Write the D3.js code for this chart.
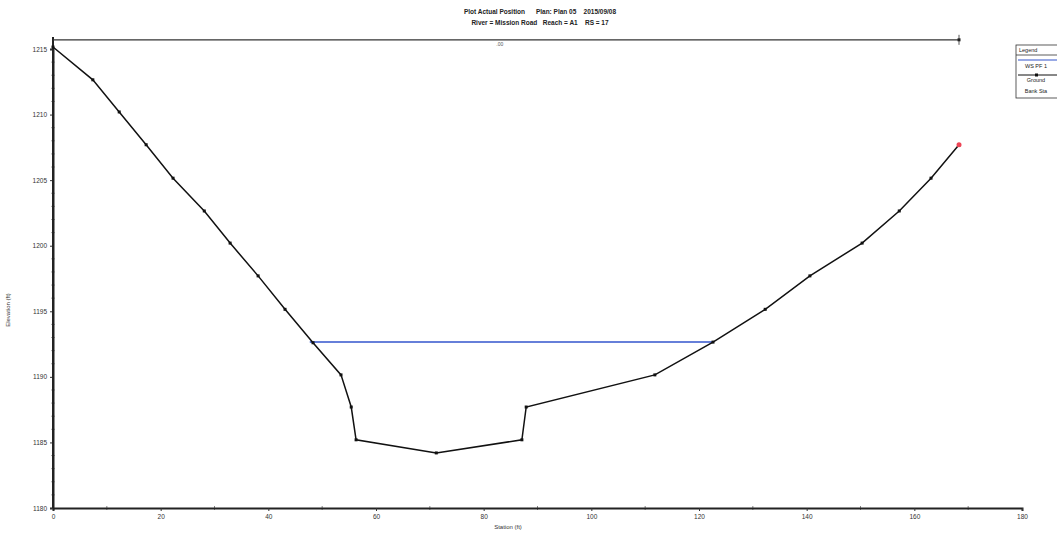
<!DOCTYPE html>
<html>
<head>
<meta charset="utf-8">
<script src="https://cdn.jsdelivr.net/npm/d3@7"></script>
<style>
  body { margin: 0; background: #fff; }
  svg { display: block; font-family: "Liberation Sans", Arial, sans-serif; }
  .title { white-space: pre; }
</style>
</head>
<body>
<svg id="chart" width="1057" height="534"></svg>
<script>
// ground points (station ft, elevation ft)
let stations = [0, 7.4, 12.3, 17.3, 22.3, 28.1, 32.9, 38.1, 43.1, 48.3, 53.5, 55.4, 56.3, 71.2, 87.1, 87.9, 111.8, 122.6, 132.3, 140.6, 150.3, 157.2, 163.1, 168.3];
let elevations = [1215.15, 1212.65, 1210.2, 1207.7, 1205.15, 1202.65, 1200.2, 1197.7, 1195.15, 1192.6, 1190.15, 1187.7, 1185.2, 1184.2, 1185.2, 1187.7, 1190.15, 1192.65, 1195.15, 1197.7, 1200.2, 1202.65, 1205.15, 1207.7];
let wsStations = [47.7, 122.6];
let wsElev = 1192.65;
let lidStations = [0, 168.3];
let lidElev = 1215.7;
let xTicks = [0, 20, 40, 60, 80, 100, 120, 140, 160, 180];
let yTicks = [1180, 1185, 1190, 1195, 1200, 1205, 1210, 1215];
let titleLines = ["Plot Actual Position      Plan: Plan 05    2015/09/08", "River = Mission Road   Reach = A1    RS = 17"];
let legendItems = ["Legend", "WS PF 1", "Ground", "Bank Sta"];

let margin = { top: 49, right: 35, bottom: 26, left: 53 };
let width = 1057 - margin.left - margin.right;
let height = 534 - margin.top - margin.bottom;

let x = d3.scaleLinear().domain([0, 180]).range([0, width]);
let y = d3.scaleLinear().domain([1180, 1215]).range([height, 0]);

let svg = d3.select("#chart");
let g = svg.append("g").attr("transform", "translate(" + margin.left + "," + margin.top + ")");

// title
svg.selectAll(".title").data(titleLines).enter().append("text")
    .attr("class", "title")
    .attr("x", 540).attr("y", (d, i) => 14 + i * 11)
    .attr("text-anchor", "middle").attr("font-size", "6.5px").attr("font-weight", "bold")
    .attr("fill", "#222").text(d => d);

// minor ticks
let xMinor = d3.range(10, 180, 20);
g.selectAll(".xminor").data(xMinor).enter().append("line")
    .attr("x1", d => x(d)).attr("x2", d => x(d)).attr("y1", height - 2).attr("y2", height + 2)
    .attr("stroke", "#666").attr("stroke-width", 0.8);
let yMinor = d3.range(1180, 1216, 1).filter(v => v % 5 != 0);
g.selectAll(".yminor").data(yMinor).enter().append("line")
    .attr("x1", -2).attr("x2", 2).attr("y1", d => y(d)).attr("y2", d => y(d))
    .attr("stroke", "#888").attr("stroke-width", 0.7);

// axes
let xAxis = g.append("g").attr("transform", "translate(0," + height + ")")
    .call(d3.axisBottom(x).tickValues(xTicks).tickSize(3).tickFormat(d3.format("d")));
let yAxis = g.append("g")
    .call(d3.axisLeft(y).tickValues(yTicks).tickSize(3).tickFormat(d3.format("d")));
[xAxis, yAxis].forEach(a => {
    a.select(".domain").attr("stroke", "#222").attr("stroke-width", 2);
    a.selectAll(".tick line").attr("stroke", "#333");
    a.selectAll("text").attr("font-size", "6.5px").attr("fill", "#333");
});
g.append("line").attr("x1", x(0)).attr("x2", x(0)).attr("y1", -12).attr("y2", height)
    .attr("stroke", "#222").attr("stroke-width", 2);

// axis labels
svg.append("text").attr("x", 508).attr("y", 529).attr("text-anchor", "middle")
    .attr("font-size", "6px").attr("fill", "#333").text("Station (ft)");
svg.append("text").attr("transform", "translate(10,310) rotate(-90)").attr("text-anchor", "middle")
    .attr("font-size", "6px").attr("fill", "#333").text("Elevation (ft)");

// lid / top line
g.append("line").attr("x1", x(lidStations[0])).attr("x2", x(lidStations[1]))
    .attr("y1", y(lidElev)).attr("y2", y(lidElev)).attr("stroke", "#333").attr("stroke-width", 1.2);
g.append("line").attr("x1", x(lidStations[1])).attr("x2", x(lidStations[1]))
    .attr("y1", y(lidElev) - 5).attr("y2", y(lidElev) + 5).attr("stroke", "#555").attr("stroke-width", 1);
g.append("rect").attr("x", x(lidStations[1]) - 1.5).attr("y", y(lidElev) - 1.5)
    .attr("width", 3).attr("height", 3).attr("fill", "#222");
g.append("text").attr("x", x(83)).attr("y", y(lidElev) + 6).attr("text-anchor", "middle")
    .attr("font-size", "5px").attr("fill", "#555").text(".00");

// water surface
g.append("line").attr("x1", x(wsStations[0])).attr("x2", x(wsStations[1]))
    .attr("y1", y(wsElev)).attr("y2", y(wsElev)).attr("stroke", "#3355cc").attr("stroke-width", 1.5);

// ground
let ground = stations.map((s, i) => [s, elevations[i]]);
g.append("path").datum(ground)
    .attr("d", d3.line().x(d => x(d[0])).y(d => y(d[1])))
    .attr("fill", "none").attr("stroke", "#111").attr("stroke-width", 1.5);
g.selectAll(".pt").data(ground).enter().append("rect")
    .attr("x", d => x(d[0]) - 1.5).attr("y", d => y(d[1]) - 1.5)
    .attr("width", 3).attr("height", 3).attr("fill", "#111");
// bank station
let last = ground[ground.length - 1];
g.append("circle").attr("cx", x(last[0])).attr("cy", y(last[1])).attr("r", 2.5).attr("fill", "#ee4455");

// legend
let lg = svg.append("g").attr("transform", "translate(1016,45)");
lg.append("rect").attr("width", 45).attr("height", 53).attr("fill", "#fff").attr("stroke", "#333").attr("stroke-width", 0.8);
lg.append("line").attr("x1", 0).attr("x2", 45).attr("y1", 10).attr("y2", 10).attr("stroke", "#333").attr("stroke-width", 0.8);
lg.append("line").attr("x1", 2).attr("x2", 45).attr("y1", 15).attr("y2", 15).attr("stroke", "#3355cc").attr("stroke-width", 1.2);
lg.append("line").attr("x1", 2).attr("x2", 45).attr("y1", 30).attr("y2", 30).attr("stroke", "#111").attr("stroke-width", 1);
lg.append("rect").attr("x", 19).attr("y", 28.5).attr("width", 3).attr("height", 3).attr("fill", "#111");
lg.selectAll(".lt").data(legendItems).enter().append("text")
    .attr("x", (d, i) => i == 0 ? 3 : 20).attr("y", (d, i) => [7, 23, 37, 48][i])
    .attr("text-anchor", (d, i) => i == 0 ? "start" : "middle")
    .attr("font-size", "5.5px").attr("fill", "#222").text(d => d);
</script>
</body>
</html>
